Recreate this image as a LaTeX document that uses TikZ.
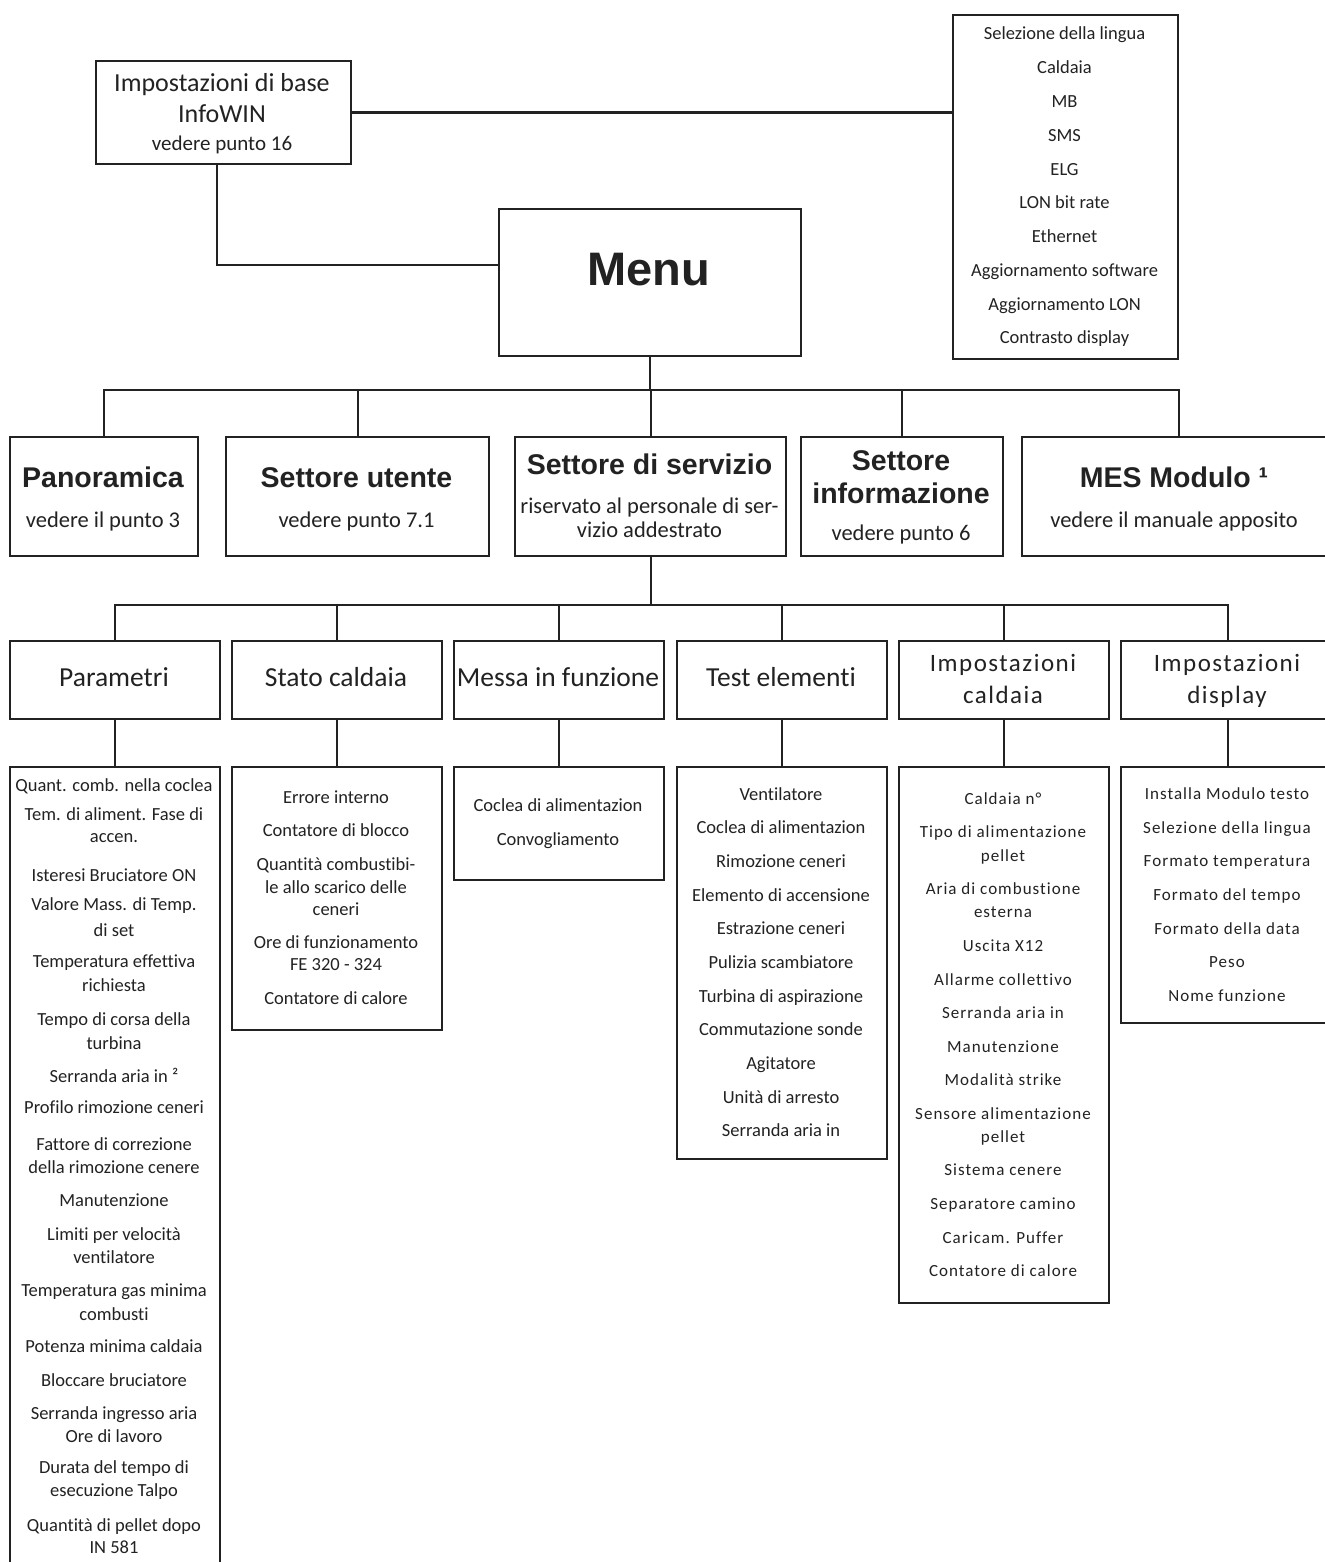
\documentclass[tikz,border=0pt]{standalone}
\usepackage{fontspec}
\setmainfont{Carlito}[Ligatures={NoCommon,NoContextual}]
\newfontfamily\hfont{Liberation Sans}
\newfontfamily\wfont{Carlito}[LetterSpace=6,Ligatures={NoCommon,NoContextual}]
\definecolor{ink}{HTML}{222222}
\newcommand\mybox[5]{\node[bx,anchor=north west,minimum width={#4pt-#2pt},minimum height={#5pt-#3pt}] (#1) at (#2,#3) {};}
\begin{document}
\begin{tikzpicture}[x=1pt,y=-1pt,
  bx/.style={draw=ink,line width=2.4pt,inner sep=0pt,fill=none},
  ln/.style={draw=ink,line width=2.4pt},
  it/.style={font=\fontsize{18.5}{20}\selectfont,text=ink,inner sep=0pt,text height=13pt,text depth=4pt},
  itw/.style={font=\wfont\fontsize{17}{20}\selectfont,text=ink,inner sep=0pt,text height=12pt,text depth=4pt},
  sub/.style={font=\fontsize{22.5}{24}\selectfont,text=ink,inner sep=0pt,text height=16pt,text depth=5pt},
  ttl/.style={font=\hfont\bfseries\fontsize{28.5}{30}\selectfont,text=ink,inner sep=0pt,text height=21pt,text depth=2pt},
  lv3/.style={font=\fontsize{27.5}{30}\selectfont,text=ink,inner sep=0pt,text height=19pt,text depth=6pt},
  lv3w/.style={font=\wfont\fontsize{25}{30}\selectfont,text=ink,inner sep=0pt,text height=18pt,text depth=6pt}]
\useasboundingbox (0,0) rectangle (1324,1562);
\fill[white] (0,0) rectangle (1324,1562);

% top level
\mybox{info}{95}{60}{350}{163}
\node[font=\fontsize{26}{28}\selectfont,text=ink,inner sep=0pt,text height=18pt,text depth=5pt] (info1) at (222,85) {Impostazioni di base};
\node[font=\fontsize{26}{28}\selectfont,text=ink,inner sep=0pt,text height=18pt,text depth=5pt] (info2) at (222,116) {InfoWIN};
\node[font=\fontsize{21}{24}\selectfont,text=ink,inner sep=0pt,text height=15pt,text depth=5pt] (info3) at (222,146) {vedere punto 16};

\mybox{rlist}{952}{14}{1177}{358}
\foreach \yy/\lab [count=\i] in {35/{Selezione della lingua},69/Caldaia,103/MB,137/SMS,171/ELG,204/{LON bit rate},238/Ethernet,272/{Aggiornamento software},306/{Aggiornamento LON},339/{Contrasto display}}
  \node[it] (r\i) at (1064.5,\yy) {\lab};

\mybox{menu}{498}{208}{800}{355}
\node[font=\hfont\bfseries\fontsize{47}{50}\selectfont,text=ink,inner sep=0pt,text height=34pt,text depth=0pt] (menut) at (649,268) {Menu};

\coordinate (j1) at (217,265);
\draw[ln] (info.east) -- (info.east -| rlist.west);
\draw[ln] (info.south -| j1) |- (menu.west |- j1);

% level 2
\mybox{pan}{9}{436}{197}{555}
\mybox{ute}{225}{436}{488}{555}
\mybox{ser}{514}{436}{785}{555}
\mybox{inf}{800}{436}{1002}{555}
\mybox{mes}{1021}{436}{1335}{555}

\node[ttl] (pant) at (103,478) {Panoramica};
\node[sub] (pans) at (103,522) {vedere il punto 3};
\node[ttl] (utet) at (356.5,478) {Settore utente};
\node[sub] (utes) at (356.5,522) {vedere punto 7.1};
\node[ttl] (sert) at (649.5,465) {Settore di servizio};
\node[sub] (sers1) at (649.5,508) {riservato al personale di ser-};
\node[sub] (sers2) at (649.5,532) {vizio addestrato};
\node[ttl] (inft1) at (901,461) {Settore};
\node[ttl] (inft2) at (901,494) {informazione};
\node[sub] (infs) at (901,535) {vedere punto 6};
\node[ttl] (mest) at (1174,478) {MES Modulo ¹};
\node[sub] (mess) at (1174,522) {vedere il manuale apposito};

\coordinate (b1) at (0,390);
\draw[ln] (menu.south) -- (menu.south |- b1);
\draw[ln] (pan.north) |- (mes.north |- b1) -- (mes.north);
\draw[ln] (ute.north) -- (ute.north |- b1);
\draw[ln] (ser.north) -- (ser.north |- b1);
\draw[ln] (inf.north) -- (inf.north |- b1);

% level 3
\mybox{par}{9}{640}{219}{718}
\mybox{sta}{231}{640}{441}{718}
\mybox{mef}{453}{640}{663}{718}
\mybox{tes}{676}{640}{886}{718}
\mybox{ica}{898}{640}{1108}{718}
\mybox{idi}{1120}{640}{1334}{718}

\node[lv3] (part) at (114,680) {Parametri};
\node[lv3] (stat) at (336,680) {Stato caldaia};
\node[lv3] (meft) at (558,680) {Messa in funzione};
\node[lv3] (test) at (781,680) {Test elementi};
\node[lv3w] (icat1) at (1003,665) {Impostazioni};
\node[lv3w] (icat2) at (1003,697) {caldaia};
\node[lv3w] (idit1) at (1227,665) {Impostazioni};
\node[lv3w] (idit2) at (1227,697) {display};

\coordinate (b2) at (0,605);
\draw[ln] (ser.south) -- (ser.south |- b2);
\draw[ln] (par.north) |- (idi.north |- b2) -- (idi.north);
\draw[ln] (sta.north) -- (sta.north |- b2);
\draw[ln] (mef.north) -- (mef.north |- b2);
\draw[ln] (tes.north) -- (tes.north |- b2);
\draw[ln] (ica.north) -- (ica.north |- b2);

% level 4 lists
\mybox{parl}{9}{766}{219}{1580}
\mybox{stal}{231}{766}{441}{1029}
\mybox{mefl}{453}{766}{663}{879}
\mybox{tesl}{676}{766}{886}{1158}
\mybox{ical}{898}{766}{1108}{1302}
\mybox{idil}{1120}{766}{1334}{1022}

\draw[ln] (par.south) -- (parl.north);
\draw[ln] (sta.south) -- (stal.north);
\draw[ln] (mef.south) -- (mefl.north);
\draw[ln] (tes.south) -- (tesl.north);
\draw[ln] (ica.south) -- (ical.north);
\draw[ln] (idi.south) -- (idil.north);

\foreach \yy/\lab [count=\i] in {787/{Quant. comb. nella coclea},816/{Tem. di aliment. Fase di},838/{accen.},877/{Isteresi Bruciatore ON},906/{Valore Mass. di Temp.},932/{di set},963/{Temperatura effettiva},987/{richiesta},1021/{Tempo di corsa della},1045/{turbina},1078/{Serranda aria in ²},1109/{Profilo rimozione ceneri},1146/{Fattore di correzione},1169/{della rimozione cenere},1202/{Manutenzione},1236/{Limiti per velocità},1259/{ventilatore},1292/{Temperatura gas minima},1316/{combusti},1348/{Potenza minima caldaia},1382/{Bloccare bruciatore},1415/{Serranda ingresso aria},1438/{Ore di lavoro},1469/{Durata del tempo di},1492/{esecuzione Talpo},1527/{Quantità di pellet dopo},1549/{IN 581}}
  \node[it] (p\i) at (114,\yy) {\lab};

\foreach \yy/\lab [count=\i] in {799/{Errore interno},832/{Contatore di blocco},866/{Quantità combustibi-},889/{le allo scarico delle},911/{ceneri},944/{Ore di funzionamento},966/{FE 320 - 324},1000/{Contatore di calore}}
  \node[it] (s\i) at (336,\yy) {\lab};

\foreach \yy/\lab [count=\i] in {807/{Coclea di alimentazion},841/{Convogliamento}}
  \node[it] (m\i) at (558,\yy) {\lab};

\foreach \yy/\lab [count=\i] in {796/{Ventilatore},829/{Coclea di alimentazion},863/{Rimozione ceneri},897/{Elemento di accensione},930/{Estrazione ceneri},964/{Pulizia scambiatore},998/{Turbina di aspirazione},1031/{Commutazione sonde},1065/{Agitatore},1099/{Unità di arresto},1132/{Serranda aria in}}
  \node[it] (t\i) at (781,\yy) {\lab};

\foreach \yy/\lab [count=\i] in {800/{Caldaia n°},833/{Tipo di alimentazione},857/{pellet},890/{Aria di combustione},913/{esterna},947/{Uscita X12},981/{Allarme collettivo},1014/{Serranda aria in},1048/{Manutenzione},1081/{Modalità strike},1115/{Sensore alimentazione},1138/{pellet},1171/{Sistema cenere},1205/{Separatore camino},1239/{Caricam. Puffer},1272/{Contatore di calore}}
  \node[itw] (c\i) at (1003,\yy) {\lab};

\foreach \yy/\lab [count=\i] in {795/{Installa Modulo testo},829/{Selezione della lingua},862/{Formato temperatura},896/{Formato del tempo},930/{Formato della data},963/{Peso},997/{Nome funzione}}
  \node[itw] (d\i) at (1227,\yy) {\lab};
\end{tikzpicture}
\end{document}
